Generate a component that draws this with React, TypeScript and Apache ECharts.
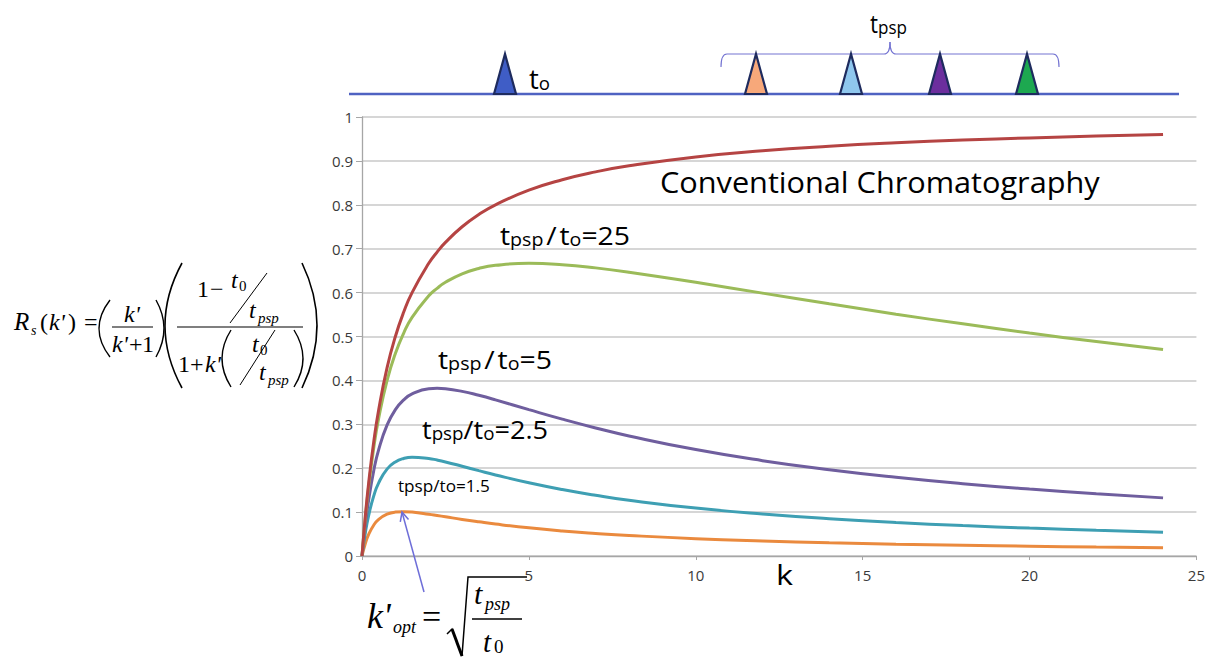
import React, { useEffect, useRef } from "react";
import * as echarts from "echarts";

// ---- data ----
const K = [0, 0.1, 0.2, 0.35, 0.5, 0.75, 1, 1.25, 1.5, 2, 2.25, 2.5, 3, 3.5, 4, 5, 6, 7, 8, 10, 12, 14, 16, 18, 20, 22, 24];
const conventional = [0, 0.0909, 0.1667, 0.2593, 0.3333, 0.4286, 0.5, 0.5556, 0.6, 0.6667, 0.6923, 0.7143, 0.75, 0.7778, 0.8, 0.8333, 0.8571, 0.875, 0.8889, 0.9091, 0.9231, 0.9333, 0.9412, 0.9474, 0.9524, 0.9565, 0.96];
const ratio25 = [0, 0.0869, 0.1587, 0.2455, 0.3137, 0.3995, 0.4615, 0.5079, 0.5434, 0.5926, 0.6097, 0.6234, 0.6429, 0.655, 0.6621, 0.6667, 0.6636, 0.6563, 0.6465, 0.6234, 0.5988, 0.5744, 0.5509, 0.5288, 0.5079, 0.4884, 0.4702];
const ratio5 = [0, 0.0713, 0.1282, 0.1938, 0.2424, 0.2981, 0.3333, 0.3556, 0.3692, 0.381, 0.382, 0.381, 0.375, 0.366, 0.3556, 0.3333, 0.3117, 0.2917, 0.2735, 0.2424, 0.2172, 0.1965, 0.1793, 0.1648, 0.1524, 0.1417, 0.1324];
const ratio2_5 = [0, 0.0525, 0.0926, 0.1365, 0.1667, 0.1978, 0.2143, 0.2222, 0.225, 0.2222, 0.2186, 0.2143, 0.2045, 0.1944, 0.1846, 0.1667, 0.1513, 0.1382, 0.127, 0.1091, 0.0955, 0.0849, 0.0763, 0.0693, 0.0635, 0.0586, 0.0543];
const ratio1_5 = [0, 0.0284, 0.049, 0.0701, 0.0833, 0.0952, 0.1, 0.101, 0.1, 0.0952, 0.0923, 0.0893, 0.0833, 0.0778, 0.0727, 0.0641, 0.0571, 0.0515, 0.0468, 0.0395, 0.0342, 0.0301, 0.0269, 0.0243, 0.0222, 0.0204, 0.0188];
const X_RANGE = [0, 25, 5];
const Y_RANGE = [0, 1, 0.1];

const SANS = "Open Sans";
const SERIF = "Liberation Serif";

let measureCtx: CanvasRenderingContext2D | null = null;
function measure(text: string, size: number, family: string, italic = false) {
  if (!measureCtx) measureCtx = document.createElement("canvas").getContext("2d");
  if (!measureCtx) return text.length * size * 0.55;
  measureCtx.font = `${italic ? "italic " : ""}${size}px "${family}"`;
  return measureCtx.measureText(text).width;
}

// rich label with mixed sizes sharing a baseline, stretched to [x0,x1]
function richLabel(x0: number, x1: number, baseline: number, parts: [string, number][], family = SANS) {
  const k = 0.388;
  const c = 10;
  const rich: any = {};
  let text = "";
  let natural = 0;
  let maxL = 0;
  parts.forEach(([s, f], i) => {
    const L = 2 * k * f + c;
    rich["p" + i] = { fontSize: f, fontFamily: family, lineHeight: L, verticalAlign: "bottom", fill: "#000" };
    text += `{p${i}|${s}}`;
    natural += measure(s, f, family);
    maxL = Math.max(maxL, L);
  });
  const sx = (x1 - x0) / natural;
  return {
    type: "text",
    x: x0,
    y: baseline + c / 2 - maxL,
    scaleX: sx,
    z: 20,
    style: { text, rich, align: "left", verticalAlign: "top" },
  };
}

// serif text piece placed by baseline
function S(x: number, baseline: number, text: string, size: number, italic = true, align = "left") {
  return {
    type: "text",
    x,
    y: baseline - 0.3375 * size,
    z: 20,
    style: {
      text,
      fontSize: size,
      fontFamily: SERIF,
      fontStyle: italic ? "italic" : "normal",
      fill: "#000",
      align,
      verticalAlign: "middle",
    },
  };
}

function ln(x1: number, y1: number, x2: number, y2: number, color = "#000", w = 1.2) {
  return { type: "line", z: 20, shape: { x1, y1, x2, y2 }, style: { stroke: color, lineWidth: w } };
}

function paren(x: number, yTop: number, yBot: number, xMid: number, w = 1.4, color = "#000") {
  return {
    type: "bezierCurve",
    z: 20,
    shape: { x1: x, y1: yTop, x2: x, y2: yBot, cpx1: 2 * xMid - x, cpy1: (yTop + yBot) / 2 },
    style: { stroke: color, lineWidth: w, fill: null },
  };
}

function tri(cx: number, fill: string) {
  return {
    type: "polygon",
    z: 20,
    shape: { points: [[cx - 11, 94], [cx, 54], [cx + 11, 94]] },
    style: { fill, stroke: "#1E2B5E", lineWidth: 2.2 },
  };
}

function buildGraphics() {
  const braceColor = "#7474D2";
  const els: any[] = [];
  // timeline
  els.push(ln(349, 94, 1179, 94, "#4F62C2", 2.5));
  // brace
  els.push({ type: "bezierCurve", z: 19, shape: { x1: 721, y1: 67, x2: 727, y2: 54, cpx1: 721, cpy1: 54 }, style: { stroke: braceColor, lineWidth: 1.2, fill: null } });
  els.push(ln(727, 54, 884, 54, braceColor, 1.2));
  els.push({ type: "bezierCurve", z: 19, shape: { x1: 884, y1: 54, x2: 890, y2: 42, cpx1: 890, cpy1: 54 }, style: { stroke: braceColor, lineWidth: 1.2, fill: null } });
  els.push({ type: "bezierCurve", z: 19, shape: { x1: 890, y1: 42, x2: 896, y2: 54, cpx1: 890, cpy1: 54 }, style: { stroke: braceColor, lineWidth: 1.2, fill: null } });
  els.push(ln(896, 54, 1053, 54, braceColor, 1.2));
  els.push({ type: "bezierCurve", z: 19, shape: { x1: 1053, y1: 54, x2: 1059, y2: 67, cpx1: 1059, cpy1: 54 }, style: { stroke: braceColor, lineWidth: 1.2, fill: null } });
  // peaks
  els.push(tri(505, "#3F5DC6"));
  els.push(tri(756, "#F7A87A"));
  els.push(tri(851, "#8FC7EE"));
  els.push(tri(940, "#6C2E9E"));
  els.push(tri(1027, "#1DA850"));
  // top labels
  els.push(richLabel(529, 550, 87, [["t", 28], ["o", 19]]));
  els.push(richLabel(870, 907, 31, [["t", 25], ["psp", 19]]));

  // curve labels
  els.push(richLabel(660, 1100, 192, [["Conventional Chromatography", 29.5]]));
  els.push(richLabel(500, 630, 243, [["t", 26], ["psp", 18], [" ", 10], ["/", 26], [" ", 10], ["t", 26], ["o", 18], ["=25", 26]]));
  els.push(richLabel(438, 552, 367, [["t", 26], ["psp", 18], [" ", 10], ["/", 26], [" ", 10], ["t", 26], ["o", 18], ["=5", 26]]));
  els.push(richLabel(422, 548, 437, [["t", 26], ["psp", 18], ["/", 26], ["t", 26], ["o", 18], ["=2.5", 26]]));
  els.push(richLabel(398, 490, 489, [["tpsp/to=1.5", 16]]));
  els.push(richLabel(776, 793, 583, [["k", 27]]));

  // left formula R_s(k')
  els.push(S(14, 330, "R", 25));
  els.push(S(31, 335, "s", 14));
  els.push(S(40, 330, "(", 24, false));
  els.push(S(49, 330, "k'", 24));
  els.push(S(68, 330, ")", 24, false));
  els.push(S(84, 330, "=", 24, false));
  els.push(paren(110, 300, 357, 99));
  els.push(S(124, 322, "k'", 24));
  els.push(ln(112, 327, 153, 327, "#000", 1.1));
  els.push(S(112, 352, "k'", 24));
  els.push(S(129, 352, "+", 24, false));
  els.push(S(142, 352, "1", 24, false));
  els.push(paren(156, 300, 357, 164));
  els.push(paren(182, 263, 388, 165, 1.6));
  els.push(S(197, 297, "1", 24, false));
  els.push(S(210, 297, "\u2212", 24, false));
  els.push(S(231, 288, "t", 24));
  els.push(S(239, 291, "0", 15, false));
  els.push(ln(230, 323, 267, 273, "#000", 1));
  els.push(S(249, 318, "t", 24));
  els.push(S(258, 323, "psp", 15));
  els.push(ln(177, 327, 303, 327, "#000", 1.1));
  els.push(S(178, 372, "1", 24, false));
  els.push(S(190, 372, "+", 24, false));
  els.push(S(205, 372, "k'", 24));
  els.push(paren(231, 330, 387, 222));
  els.push(S(252, 352, "t", 24));
  els.push(S(260, 355, "0", 15, false));
  els.push(ln(240, 385, 275, 330, "#000", 1));
  els.push(S(259, 380, "t", 24));
  els.push(S(268, 385, "psp", 15));
  els.push(paren(294, 330, 387, 303));
  els.push(paren(302, 263, 388, 317, 1.6));

  // bottom formula k'_opt
  els.push(S(367, 628, "k'", 36));
  els.push(S(393, 633, "opt", 18));
  els.push(S(422, 628, "=", 34, false));
  els.push({ type: "polyline", z: 20, shape: { points: [[447, 634], [452, 629], [462, 656], [468, 577], [527, 577]] }, style: { stroke: "#000", lineWidth: 1.5, fill: null } });
  els.push(ln(452, 629, 462, 656, "#000", 3));
  els.push(S(474, 604, "t", 30));
  els.push(S(485, 610, "psp", 18));
  els.push(ln(472, 619, 522, 619, "#000", 1.4));
  els.push(S(483, 652, "t", 29));
  els.push(S(494, 653, "0", 19, false));
  // arrow
  const ac = "#6E6ED8";
  els.push(ln(424, 592, 402, 512, ac, 1.5));
  els.push({ type: "polyline", z: 20, shape: { points: [[408.5, 519.6], [402, 512], [400.3, 521.9]] }, style: { stroke: ac, lineWidth: 1.5, fill: null } });
  return els;
}

function lineSeries(name: string, values: number[], color: string) {
  return {
    name,
    type: "line",
    data: K.map((k, i) => [k, values[i]]),
    showSymbol: false,
    smooth: 0.5,
    lineStyle: { color, width: 3 },
    itemStyle: { color },
  };
}

export default function App() {
  const ref = useRef<HTMLDivElement>(null);
  useEffect(() => {
    if (!ref.current) return;
    const chart = echarts.init(ref.current, undefined, { renderer: "svg" });
    const axisColor = "#A6A6A6";
    chart.setOption({
      animation: false,
      backgroundColor: "#fff",
      grid: { left: 362, right: 11, top: 117, bottom: 102, containLabel: false },
      xAxis: {
        type: "value",
        min: X_RANGE[0],
        max: X_RANGE[1],
        interval: X_RANGE[2],
        splitLine: { show: false },
        axisLine: { show: true, lineStyle: { color: axisColor, width: 1.3 } },
        axisTick: { show: true, length: 4, lineStyle: { color: axisColor } },
        axisLabel: { color: "#3A3A3A", fontSize: 15, fontFamily: SANS, margin: 11 },
      },
      yAxis: {
        type: "value",
        min: Y_RANGE[0],
        max: Y_RANGE[1],
        interval: Y_RANGE[2],
        splitLine: { show: true, lineStyle: { color: "#C9C9C9", width: 1.5 } },
        axisLine: { show: true, lineStyle: { color: axisColor, width: 1.3 } },
        axisTick: { show: true, length: 6, lineStyle: { color: axisColor } },
        axisLabel: {
          color: "#3A3A3A",
          fontSize: 15,
          fontFamily: SANS,
          margin: 9,
          formatter: (v: number) => String(Math.round(v * 10) / 10),
        },
      },
      series: [
        lineSeries("t_psp/t_o=1.5", ratio1_5, "#EA8A3E"),
        lineSeries("t_psp/t_o=2.5", ratio2_5, "#3E9FB3"),
        lineSeries("t_psp/t_o=5", ratio5, "#6F5E9E"),
        lineSeries("t_psp/t_o=25", ratio25, "#9BBB59"),
        lineSeries("Conventional", conventional, "#B54443"),
      ],
      graphic: { elements: buildGraphics() },
    });
    return () => chart.dispose();
  }, []);
  return <div ref={ref} style={{ position: "absolute", left: 0, top: 0, width: 1208, height: 658 }} />;
}
